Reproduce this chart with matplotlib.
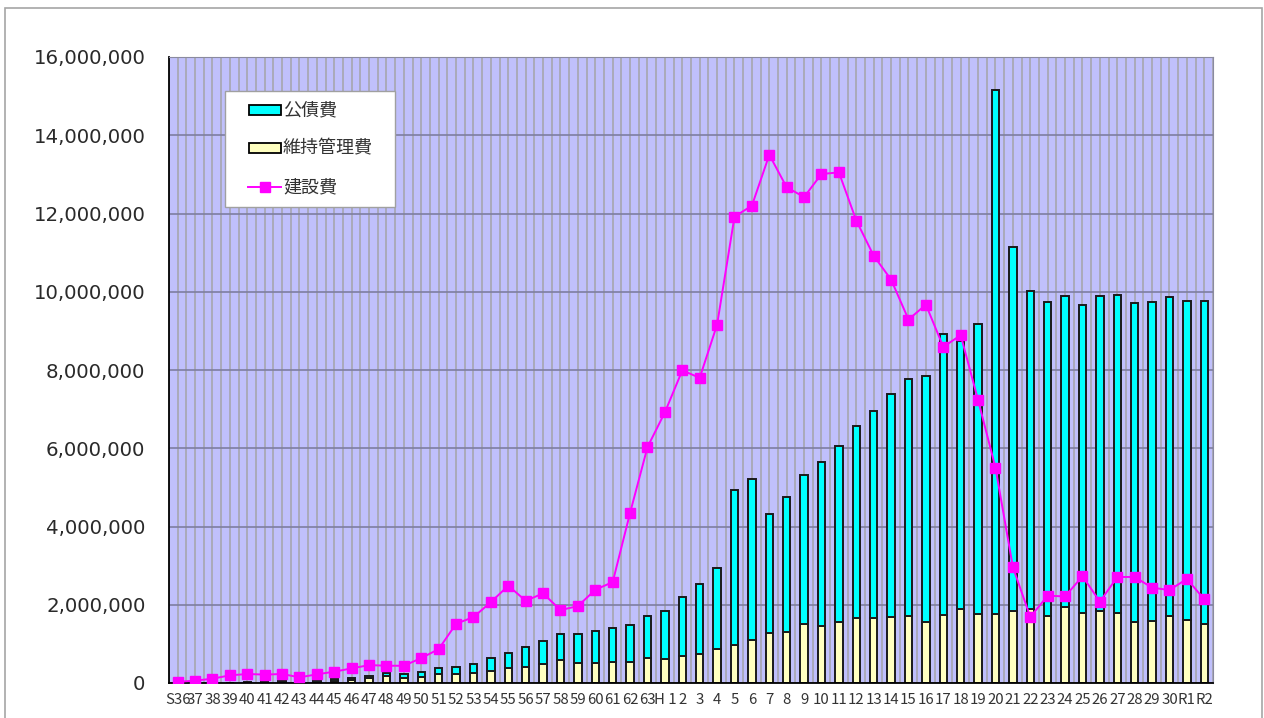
import numpy as np
import matplotlib
matplotlib.use("Agg")
import matplotlib.pyplot as plt
from matplotlib.patches import Rectangle
from matplotlib.lines import Line2D
from matplotlib.ticker import FuncFormatter, FixedLocator

plt.rcParams['font.family'] = ['Noto Sans CJK JP', 'DejaVu Sans']

categories = ['S36', '37', '38', '39', '40', '41', '42', '43', '44', '45',
              '46', '47', '48', '49', '50', '51', '52', '53', '54', '55',
              '56', '57', '58', '59', '60', '61', '62', '63', 'H 1', '2',
              '3', '4', '5', '6', '7', '8', '9', '10', '11', '12',
              '13', '14', '15', '16', '17', '18', '19', '20', '21', '22',
              '23', '24', '25', '26', '27', '28', '29', '30', 'R1', 'R2']

# 維持管理費 (bottom segment)
iji = [0, 0, 0, 0, 10000, 15000, 20000, 8000, 30000, 40000,
       68000, 119000, 170000, 136000, 162000, 222000, 230000, 247000, 315000, 375000,
       417000, 494000, 579000, 503000, 520000, 528000, 545000, 648000, 613000, 682000,
       733000, 860000, 971000, 1091000, 1287000, 1304000, 1517000, 1465000, 1568000, 1653000,
       1670000, 1695000, 1713000, 1551000, 1747000, 1883000, 1772000, 1772000, 1849000, 1880000,
       1721000, 1934000, 1789000, 1832000, 1781000, 1551000, 1585000, 1721000, 1602000, 1517000]

# 公債費 (top segment)
kousai = [0, 0, 0, 0, 15000, 25000, 30000, 12000, 45000, 55000,
          51000, 68000, 86000, 86000, 111000, 153000, 179000, 247000, 315000, 400000,
          503000, 586000, 665000, 749000, 809000, 886000, 929000, 1056000, 1236000, 1516000,
          1806000, 2088000, 3954000, 4132000, 3033000, 3459000, 3799000, 4184000, 4481000, 4924000,
          5280000, 5695000, 6057000, 6299000, 7173000, 6857000, 7408000, 13378000, 9301000, 8150000,
          8009000, 7956000, 7861000, 8068000, 8129000, 8159000, 8155000, 8139000, 8158000, 8243000]

# 建設費 (line)
kensetsu = [30000, 60000, 110000, 196000, 230000, 215000, 230000, 145000, 221000, 290000,
            373000, 458000, 441000, 441000, 637000, 867000, 1514000, 1685000, 2068000, 2486000,
            2102000, 2290000, 1864000, 1966000, 2383000, 2579000, 4350000, 6030000, 6919000, 7990000,
            7800000, 9160000, 11920000, 12200000, 13500000, 12670000, 12420000, 13010000, 13050000, 11820000,
            10920000, 10310000, 9290000, 9670000, 8590000, 8890000, 7230000, 5500000, 2960000, 1687000,
            2231000, 2213000, 2730000, 2078000, 2710000, 2710000, 2436000, 2376000, 2660000, 2137000]

series_names = ['公債費', '維持管理費', '建設費']

W, H = 1264, 718
fig = plt.figure(figsize=(W / 100, H / 100), dpi=100)
fig.patch.set_facecolor('white')

# outer chart border
fig.patches.append(Rectangle((5 / W, -0.01), (1262 - 5) / W, 1 - 8 / H + 0.01,
                             transform=fig.transFigure, fill=False,
                             edgecolor='#A6A6A6', linewidth=1.2))

L, R, T, B = 169, 1213, 57, 683
ax = fig.add_axes([L / W, 1 - B / H, (R - L) / W, (B - T) / H])
ax.set_facecolor('#C0C0FC')

x = np.arange(len(categories))
n = len(categories)

# vertical grid lines (category boundaries and centers)
ax.vlines(np.arange(-0.5, n, 0.5), 0, 16000000, colors='#A6A6AE', linewidth=1.2, zorder=0.5)

ax.set_ylim(0, 16000000)
ax.set_xlim(-0.5, n - 0.5)
ax.yaxis.set_major_locator(FixedLocator(np.arange(0, 16000001, 2000000)))
ax.yaxis.set_major_formatter(FuncFormatter(lambda v, p: f'{int(v):,}'))
ax.yaxis.grid(True, color='#7E7EA0', linewidth=1.2, zorder=0.6)
ax.set_axisbelow(True)

bw = 0.42
ax.bar(x, iji, width=bw, color='#FFFFC0', edgecolor='#1a1a1a', linewidth=1.4, zorder=2)
ax.bar(x, kousai, width=bw, bottom=iji, color='#00FFFF', edgecolor='#1a1a1a', linewidth=1.4, zorder=2)
ax.plot(x, kensetsu, color='#FF00FF', linewidth=1.4, marker='s', markersize=7.5,
        markerfacecolor='#FF00FF', markeredgecolor='#FF00FF', zorder=3)

ax.set_xticks(x)
ax.set_xticklabels(categories, fontsize=10.8, color='#333333')
ax.tick_params(axis='x', length=0, pad=7)
ax.tick_params(axis='y', length=0, pad=17, labelsize=14.2, labelcolor='#2a2a2a')
for lbl in ax.get_yticklabels():
    lbl.set_fontfamily(['DejaVu Sans'])

ax.spines['left'].set_color('#000000')
ax.spines['bottom'].set_color('#000000')
ax.spines['left'].set_linewidth(1.3)
ax.spines['bottom'].set_linewidth(1.3)
ax.spines['top'].set_color('#8A8AA0')
ax.spines['right'].set_color('#8A8AA0')

# legend (manual)
def fx(px):
    return px / W

def fy(py):
    return 1 - py / H

fig.patches.append(Rectangle((fx(225), fy(207)), fx(395) - fx(225), fy(91) - fy(207),
                             transform=fig.transFigure, facecolor='white',
                             edgecolor='#A0A0A0', linewidth=1.0, zorder=10))
rows = [110, 148, 187]
fig.patches.append(Rectangle((fx(249), fy(rows[0] + 5)), fx(281) - fx(249), fy(rows[0] - 5) - fy(rows[0] + 5),
                             transform=fig.transFigure, facecolor='#00FFFF',
                             edgecolor='black', linewidth=1.3, zorder=11))
fig.patches.append(Rectangle((fx(249), fy(rows[1] + 5)), fx(281) - fx(249), fy(rows[1] - 5) - fy(rows[1] + 5),
                             transform=fig.transFigure, facecolor='#FFFFC0',
                             edgecolor='black', linewidth=1.3, zorder=11))
fig.lines.append(Line2D([fx(248), fx(281)], [fy(rows[2]), fy(rows[2])], transform=fig.transFigure,
                        color='#FF00FF', linewidth=1.4, zorder=11))
fig.lines.append(Line2D([fx(264.5)], [fy(rows[2])], transform=fig.transFigure, color='#FF00FF',
                        marker='s', markersize=7.5, zorder=12))
for name, ry in zip(series_names, rows):
    fig.text(fx(283), fy(ry), name, fontsize=13, color='#333333', va='center', ha='left', zorder=12)

fig.savefig('out.png', dpi=100)
